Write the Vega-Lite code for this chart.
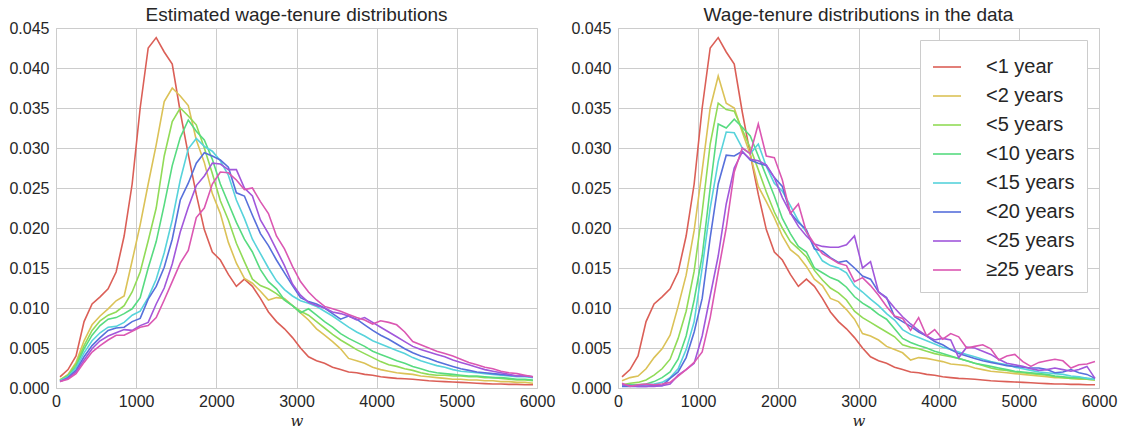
{
  "$schema": "https://vega.github.io/schema/vega-lite/v6.json",
  "background": "white",
  "padding": {"left": 8, "top": 5, "right": 5, "bottom": 0},
  "config": {
    "view": {"stroke": "#cccccc", "strokeWidth": 1},
    "axis": {"grid": true, "gridColor": "#cccccc", "gridWidth": 1, "domain": false, "ticks": false, "labelFont": "Liberation Sans", "labelFontSize": 16, "labelColor": "#262626", "titleColor": "#262626", "labelFlush": false, "labelOverlap": false},
    "title": {"font": "Liberation Sans", "fontSize": 19, "fontWeight": "normal", "color": "#262626", "offset": -5},
    "concat": {"spacing": 14}
  },
  "datasets": {
    "est": [
      {"w":50,"y1":0.0014,"y2":0.0010,"y5":0.0010,"y10":0.0009,"y15":0.0009,"y20":0.0008,"y25":0.0008,"y25p":0.0008},
      {"w":150,"y1":0.0023,"y2":0.0017,"y5":0.0016,"y10":0.0015,"y15":0.0014,"y20":0.0013,"y25":0.0012,"y25p":0.0011},
      {"w":250,"y1":0.0040,"y2":0.0032,"y5":0.0030,"y10":0.0027,"y15":0.0025,"y20":0.0022,"y25":0.0020,"y25p":0.0018},
      {"w":350,"y1":0.0083,"y2":0.0059,"y5":0.0053,"y10":0.0049,"y15":0.0044,"y20":0.0039,"y25":0.0035,"y25p":0.0032},
      {"w":450,"y1":0.0105,"y2":0.0079,"y5":0.0072,"y10":0.0066,"y15":0.0059,"y20":0.0053,"y25":0.0049,"y25p":0.0045},
      {"w":550,"y1":0.0114,"y2":0.0090,"y5":0.0084,"y10":0.0078,"y15":0.0069,"y20":0.0063,"y25":0.0059,"y25p":0.0053},
      {"w":650,"y1":0.0124,"y2":0.0099,"y5":0.0091,"y10":0.0086,"y15":0.0076,"y20":0.0072,"y25":0.0065,"y25p":0.0060},
      {"w":750,"y1":0.0145,"y2":0.0109,"y5":0.0095,"y10":0.0088,"y15":0.0077,"y20":0.0075,"y25":0.0069,"y25p":0.0066},
      {"w":850,"y1":0.0190,"y2":0.0115,"y5":0.0103,"y10":0.0093,"y15":0.0082,"y20":0.0076,"y25":0.0073,"y25p":0.0066},
      {"w":950,"y1":0.0255,"y2":0.0159,"y5":0.0120,"y10":0.0099,"y15":0.0091,"y20":0.0083,"y25":0.0072,"y25p":0.0071},
      {"w":1050,"y1":0.0350,"y2":0.0204,"y5":0.0145,"y10":0.0113,"y15":0.0096,"y20":0.0087,"y25":0.0078,"y25p":0.0076},
      {"w":1150,"y1":0.0425,"y2":0.0255,"y5":0.0184,"y10":0.0150,"y15":0.0113,"y20":0.0111,"y25":0.0082,"y25p":0.0078},
      {"w":1250,"y1":0.0438,"y2":0.0304,"y5":0.0225,"y10":0.0183,"y15":0.0136,"y20":0.0127,"y25":0.0105,"y25p":0.0088},
      {"w":1350,"y1":0.0420,"y2":0.0358,"y5":0.0290,"y10":0.0229,"y15":0.0169,"y20":0.0151,"y25":0.0125,"y25p":0.0110},
      {"w":1450,"y1":0.0405,"y2":0.0375,"y5":0.0333,"y10":0.0278,"y15":0.0210,"y20":0.0186,"y25":0.0155,"y25p":0.0133},
      {"w":1550,"y1":0.0345,"y2":0.0365,"y5":0.0350,"y10":0.0313,"y15":0.0260,"y20":0.0235,"y25":0.0195,"y25p":0.0156},
      {"w":1650,"y1":0.0292,"y2":0.0353,"y5":0.0340,"y10":0.0335,"y15":0.0299,"y20":0.0256,"y25":0.0226,"y25p":0.0172},
      {"w":1750,"y1":0.0242,"y2":0.0310,"y5":0.0329,"y10":0.0321,"y15":0.0312,"y20":0.0281,"y25":0.0253,"y25p":0.0213},
      {"w":1850,"y1":0.0198,"y2":0.0282,"y5":0.0300,"y10":0.0310,"y15":0.0302,"y20":0.0294,"y25":0.0265,"y25p":0.0225},
      {"w":1950,"y1":0.0170,"y2":0.0243,"y5":0.0268,"y10":0.0286,"y15":0.0296,"y20":0.0290,"y25":0.0281,"y25p":0.0255},
      {"w":2050,"y1":0.0160,"y2":0.0218,"y5":0.0234,"y10":0.0255,"y15":0.0284,"y20":0.0285,"y25":0.0280,"y25p":0.0270},
      {"w":2150,"y1":0.0142,"y2":0.0182,"y5":0.0210,"y10":0.0231,"y15":0.0266,"y20":0.0276,"y25":0.0273,"y25p":0.0269},
      {"w":2250,"y1":0.0127,"y2":0.0156,"y5":0.0181,"y10":0.0207,"y15":0.0235,"y20":0.0244,"y25":0.0273,"y25p":0.0260},
      {"w":2350,"y1":0.0136,"y2":0.0137,"y5":0.0158,"y10":0.0186,"y15":0.0212,"y20":0.0240,"y25":0.0250,"y25p":0.0248},
      {"w":2450,"y1":0.0127,"y2":0.0131,"y5":0.0136,"y10":0.0170,"y15":0.0186,"y20":0.0216,"y25":0.0240,"y25p":0.0250},
      {"w":2550,"y1":0.0112,"y2":0.0121,"y5":0.0128,"y10":0.0148,"y15":0.0168,"y20":0.0193,"y25":0.0210,"y25p":0.0233},
      {"w":2650,"y1":0.0095,"y2":0.0110,"y5":0.0124,"y10":0.0133,"y15":0.0150,"y20":0.0178,"y25":0.0193,"y25p":0.0218},
      {"w":2750,"y1":0.0083,"y2":0.0113,"y5":0.0118,"y10":0.0124,"y15":0.0134,"y20":0.0160,"y25":0.0173,"y25p":0.0190},
      {"w":2850,"y1":0.0074,"y2":0.0112,"y5":0.0110,"y10":0.0110,"y15":0.0123,"y20":0.0144,"y25":0.0153,"y25p":0.0174},
      {"w":2950,"y1":0.0063,"y2":0.0103,"y5":0.0103,"y10":0.0103,"y15":0.0115,"y20":0.0128,"y25":0.0130,"y25p":0.0152},
      {"w":3050,"y1":0.0050,"y2":0.0094,"y5":0.0096,"y10":0.0094,"y15":0.0109,"y20":0.0113,"y25":0.0116,"y25p":0.0133},
      {"w":3150,"y1":0.0039,"y2":0.0085,"y5":0.0091,"y10":0.0099,"y15":0.0106,"y20":0.0108,"y25":0.0107,"y25p":0.0120},
      {"w":3250,"y1":0.0034,"y2":0.0074,"y5":0.0083,"y10":0.0091,"y15":0.0102,"y20":0.0105,"y25":0.0103,"y25p":0.0110},
      {"w":3350,"y1":0.0031,"y2":0.0066,"y5":0.0075,"y10":0.0083,"y15":0.0096,"y20":0.0100,"y25":0.0100,"y25p":0.0102},
      {"w":3450,"y1":0.0026,"y2":0.0058,"y5":0.0067,"y10":0.0076,"y15":0.0090,"y20":0.0093,"y25":0.0095,"y25p":0.0099},
      {"w":3550,"y1":0.0023,"y2":0.0049,"y5":0.0060,"y10":0.0068,"y15":0.0083,"y20":0.0086,"y25":0.0093,"y25p":0.0096},
      {"w":3650,"y1":0.0020,"y2":0.0037,"y5":0.0054,"y10":0.0062,"y15":0.0076,"y20":0.0090,"y25":0.0090,"y25p":0.0092},
      {"w":3750,"y1":0.0019,"y2":0.0034,"y5":0.0048,"y10":0.0057,"y15":0.0070,"y20":0.0086,"y25":0.0085,"y25p":0.0088},
      {"w":3850,"y1":0.0017,"y2":0.0031,"y5":0.0043,"y10":0.0052,"y15":0.0065,"y20":0.0079,"y25":0.0088,"y25p":0.0085},
      {"w":3950,"y1":0.0016,"y2":0.0026,"y5":0.0038,"y10":0.0046,"y15":0.0059,"y20":0.0072,"y25":0.0082,"y25p":0.0080},
      {"w":4050,"y1":0.0014,"y2":0.0023,"y5":0.0033,"y10":0.0042,"y15":0.0055,"y20":0.0066,"y25":0.0076,"y25p":0.0084},
      {"w":4150,"y1":0.0013,"y2":0.0021,"y5":0.0029,"y10":0.0038,"y15":0.0051,"y20":0.0061,"y25":0.0070,"y25p":0.0082},
      {"w":4250,"y1":0.0012,"y2":0.0019,"y5":0.0027,"y10":0.0034,"y15":0.0047,"y20":0.0055,"y25":0.0064,"y25p":0.0079},
      {"w":4350,"y1":0.00115,"y2":0.0018,"y5":0.0024,"y10":0.0031,"y15":0.0043,"y20":0.0049,"y25":0.0058,"y25p":0.0070},
      {"w":4450,"y1":0.0011,"y2":0.0017,"y5":0.0022,"y10":0.0027,"y15":0.0038,"y20":0.0044,"y25":0.0052,"y25p":0.0058},
      {"w":4550,"y1":0.0010,"y2":0.0015,"y5":0.0019,"y10":0.0024,"y15":0.0034,"y20":0.0040,"y25":0.0048,"y25p":0.0054},
      {"w":4650,"y1":0.0009,"y2":0.0014,"y5":0.0017,"y10":0.0021,"y15":0.0031,"y20":0.0037,"y25":0.0045,"y25p":0.0050},
      {"w":4750,"y1":0.00085,"y2":0.0013,"y5":0.0016,"y10":0.0019,"y15":0.0028,"y20":0.0033,"y25":0.0042,"y25p":0.0046},
      {"w":4850,"y1":0.0008,"y2":0.0012,"y5":0.0016,"y10":0.0018,"y15":0.0026,"y20":0.0030,"y25":0.0039,"y25p":0.0043},
      {"w":4950,"y1":0.00075,"y2":0.0011,"y5":0.0015,"y10":0.0017,"y15":0.0023,"y20":0.0027,"y25":0.0035,"y25p":0.0040},
      {"w":5050,"y1":0.0007,"y2":0.0011,"y5":0.0015,"y10":0.0016,"y15":0.0021,"y20":0.0024,"y25":0.0032,"y25p":0.0036},
      {"w":5150,"y1":0.00065,"y2":0.0010,"y5":0.0014,"y10":0.0015,"y15":0.0020,"y20":0.0022,"y25":0.0029,"y25p":0.0032},
      {"w":5250,"y1":0.0006,"y2":0.0010,"y5":0.0014,"y10":0.0015,"y15":0.0019,"y20":0.0020,"y25":0.0026,"y25p":0.0029},
      {"w":5350,"y1":0.00055,"y2":0.0009,"y5":0.0013,"y10":0.0014,"y15":0.0018,"y20":0.0019,"y25":0.0023,"y25p":0.0026},
      {"w":5450,"y1":0.0005,"y2":0.0009,"y5":0.0013,"y10":0.0013,"y15":0.0017,"y20":0.0018,"y25":0.0021,"y25p":0.0024},
      {"w":5550,"y1":0.0005,"y2":0.0008,"y5":0.0012,"y10":0.0013,"y15":0.0016,"y20":0.0017,"y25":0.0019,"y25p":0.0021},
      {"w":5650,"y1":0.00045,"y2":0.0008,"y5":0.0011,"y10":0.0012,"y15":0.0015,"y20":0.0016,"y25":0.0017,"y25p":0.0019},
      {"w":5750,"y1":0.00045,"y2":0.0007,"y5":0.0010,"y10":0.0011,"y15":0.0014,"y20":0.0015,"y25":0.0015,"y25p":0.0018},
      {"w":5850,"y1":0.0004,"y2":0.0007,"y5":0.0010,"y10":0.0011,"y15":0.0014,"y20":0.0015,"y25":0.0015,"y25p":0.0016},
      {"w":5950,"y1":0.0004,"y2":0.0006,"y5":0.0009,"y10":0.0010,"y15":0.0013,"y20":0.0014,"y25":0.0014,"y25p":0.0014}
    ],
    "dat": [
      {"w":50,"y1":0.0014,"y2":0.0009,"y5":0.0004,"y10":0.0003,"y15":0.0003,"y20":0.0002,"y25":0.0004,"y25p":0.0006},
      {"w":150,"y1":0.0023,"y2":0.0013,"y5":0.0006,"y10":0.0004,"y15":0.0003,"y20":0.0002,"y25":0.0003,"y25p":0.0002},
      {"w":250,"y1":0.0040,"y2":0.0015,"y5":0.0007,"y10":0.0004,"y15":0.0003,"y20":0.0002,"y25":0.0002,"y25p":0.0004},
      {"w":350,"y1":0.0083,"y2":0.0024,"y5":0.0010,"y10":0.0005,"y15":0.0004,"y20":0.0002,"y25":0.0002,"y25p":0.0005},
      {"w":450,"y1":0.0105,"y2":0.0038,"y5":0.0016,"y10":0.0008,"y15":0.0005,"y20":0.0003,"y25":0.0002,"y25p":0.0004},
      {"w":550,"y1":0.0114,"y2":0.0049,"y5":0.0024,"y10":0.0013,"y15":0.0007,"y20":0.0003,"y25":0.0003,"y25p":0.0005},
      {"w":650,"y1":0.0124,"y2":0.0066,"y5":0.0036,"y10":0.0020,"y15":0.0013,"y20":0.0012,"y25":0.0005,"y25p":0.0007},
      {"w":750,"y1":0.0145,"y2":0.0102,"y5":0.0062,"y10":0.0036,"y15":0.0024,"y20":0.0020,"y25":0.0016,"y25p":0.0015},
      {"w":850,"y1":0.0190,"y2":0.0141,"y5":0.0096,"y10":0.0065,"y15":0.0048,"y20":0.0038,"y25":0.0023,"y25p":0.0023},
      {"w":950,"y1":0.0255,"y2":0.0197,"y5":0.0146,"y10":0.0110,"y15":0.0083,"y20":0.0070,"y25":0.0031,"y25p":0.0032},
      {"w":1050,"y1":0.0350,"y2":0.0272,"y5":0.0220,"y10":0.0165,"y15":0.0150,"y20":0.0112,"y25":0.0065,"y25p":0.0045},
      {"w":1150,"y1":0.0425,"y2":0.0350,"y5":0.0305,"y10":0.0250,"y15":0.0225,"y20":0.0188,"y25":0.0115,"y25p":0.0088},
      {"w":1250,"y1":0.0438,"y2":0.0390,"y5":0.0356,"y10":0.0330,"y15":0.0283,"y20":0.0255,"y25":0.0165,"y25p":0.0145},
      {"w":1350,"y1":0.0420,"y2":0.0356,"y5":0.0348,"y10":0.0325,"y15":0.0320,"y20":0.0291,"y25":0.0230,"y25p":0.0200},
      {"w":1450,"y1":0.0405,"y2":0.0350,"y5":0.0346,"y10":0.0336,"y15":0.0319,"y20":0.0290,"y25":0.0275,"y25p":0.0270},
      {"w":1550,"y1":0.0345,"y2":0.0320,"y5":0.0323,"y10":0.0326,"y15":0.0300,"y20":0.0296,"y25":0.0295,"y25p":0.0300},
      {"w":1650,"y1":0.0292,"y2":0.0292,"y5":0.0300,"y10":0.0315,"y15":0.0293,"y20":0.0285,"y25":0.0286,"y25p":0.0293},
      {"w":1750,"y1":0.0242,"y2":0.0252,"y5":0.0273,"y10":0.0290,"y15":0.0305,"y20":0.0281,"y25":0.0284,"y25p":0.0330},
      {"w":1850,"y1":0.0198,"y2":0.0233,"y5":0.0245,"y10":0.0265,"y15":0.0277,"y20":0.0278,"y25":0.0279,"y25p":0.0290},
      {"w":1950,"y1":0.0170,"y2":0.0213,"y5":0.0220,"y10":0.0240,"y15":0.0256,"y20":0.0263,"y25":0.0263,"y25p":0.0288},
      {"w":2050,"y1":0.0160,"y2":0.0190,"y5":0.0200,"y10":0.0212,"y15":0.0246,"y20":0.0252,"y25":0.0238,"y25p":0.0260},
      {"w":2150,"y1":0.0142,"y2":0.0173,"y5":0.0183,"y10":0.0193,"y15":0.0228,"y20":0.0219,"y25":0.0219,"y25p":0.0218},
      {"w":2250,"y1":0.0127,"y2":0.0165,"y5":0.0174,"y10":0.0177,"y15":0.0209,"y20":0.0207,"y25":0.0202,"y25p":0.0230},
      {"w":2350,"y1":0.0136,"y2":0.0152,"y5":0.0164,"y10":0.0170,"y15":0.0195,"y20":0.0198,"y25":0.0190,"y25p":0.0195},
      {"w":2450,"y1":0.0127,"y2":0.0136,"y5":0.0147,"y10":0.0150,"y15":0.0175,"y20":0.0174,"y25":0.0180,"y25p":0.0180},
      {"w":2550,"y1":0.0112,"y2":0.0128,"y5":0.0135,"y10":0.0144,"y15":0.0159,"y20":0.0171,"y25":0.0177,"y25p":0.0168},
      {"w":2650,"y1":0.0095,"y2":0.0112,"y5":0.0125,"y10":0.0138,"y15":0.0153,"y20":0.0163,"y25":0.0176,"y25p":0.0162},
      {"w":2750,"y1":0.0083,"y2":0.0108,"y5":0.0119,"y10":0.0134,"y15":0.0150,"y20":0.0157,"y25":0.0176,"y25p":0.0156},
      {"w":2850,"y1":0.0074,"y2":0.0098,"y5":0.0110,"y10":0.0126,"y15":0.0144,"y20":0.0159,"y25":0.0179,"y25p":0.0153},
      {"w":2950,"y1":0.0063,"y2":0.0086,"y5":0.0096,"y10":0.0114,"y15":0.0128,"y20":0.0150,"y25":0.0190,"y25p":0.0133},
      {"w":3050,"y1":0.0050,"y2":0.0068,"y5":0.0088,"y10":0.0106,"y15":0.0120,"y20":0.0140,"y25":0.0150,"y25p":0.0138},
      {"w":3150,"y1":0.0039,"y2":0.0065,"y5":0.0082,"y10":0.0100,"y15":0.0111,"y20":0.0136,"y25":0.0158,"y25p":0.0128},
      {"w":3250,"y1":0.0034,"y2":0.0060,"y5":0.0076,"y10":0.0092,"y15":0.0103,"y20":0.0120,"y25":0.0120,"y25p":0.0116},
      {"w":3350,"y1":0.0031,"y2":0.0052,"y5":0.0070,"y10":0.0086,"y15":0.0093,"y20":0.0113,"y25":0.0112,"y25p":0.0102},
      {"w":3450,"y1":0.0026,"y2":0.0048,"y5":0.0064,"y10":0.0074,"y15":0.0085,"y20":0.0089,"y25":0.0100,"y25p":0.0090},
      {"w":3550,"y1":0.0023,"y2":0.0044,"y5":0.0054,"y10":0.0062,"y15":0.0073,"y20":0.0083,"y25":0.0089,"y25p":0.0087},
      {"w":3650,"y1":0.0020,"y2":0.0035,"y5":0.0051,"y10":0.0057,"y15":0.0067,"y20":0.0077,"y25":0.0080,"y25p":0.0072},
      {"w":3750,"y1":0.0019,"y2":0.0038,"y5":0.0049,"y10":0.0053,"y15":0.0063,"y20":0.0070,"y25":0.0072,"y25p":0.0088},
      {"w":3850,"y1":0.0017,"y2":0.0037,"y5":0.0046,"y10":0.0050,"y15":0.0059,"y20":0.0065,"y25":0.0065,"y25p":0.0065},
      {"w":3950,"y1":0.0016,"y2":0.0035,"y5":0.0043,"y10":0.0046,"y15":0.0055,"y20":0.0058,"y25":0.0060,"y25p":0.0073},
      {"w":4050,"y1":0.0014,"y2":0.0033,"y5":0.0041,"y10":0.0043,"y15":0.0051,"y20":0.0054,"y25":0.0062,"y25p":0.0061},
      {"w":4150,"y1":0.0013,"y2":0.0030,"y5":0.0039,"y10":0.0040,"y15":0.0048,"y20":0.0048,"y25":0.0060,"y25p":0.0068},
      {"w":4250,"y1":0.0012,"y2":0.0029,"y5":0.0037,"y10":0.0037,"y15":0.0045,"y20":0.0043,"y25":0.0038,"y25p":0.0064},
      {"w":4350,"y1":0.00115,"y2":0.0028,"y5":0.0034,"y10":0.0034,"y15":0.0042,"y20":0.0040,"y25":0.0051,"y25p":0.0050},
      {"w":4450,"y1":0.0011,"y2":0.0025,"y5":0.0031,"y10":0.0031,"y15":0.0039,"y20":0.0037,"y25":0.0050,"y25p":0.0052},
      {"w":4550,"y1":0.0010,"y2":0.0023,"y5":0.0028,"y10":0.0029,"y15":0.0036,"y20":0.0034,"y25":0.0046,"y25p":0.0054},
      {"w":4650,"y1":0.0009,"y2":0.0021,"y5":0.0025,"y10":0.0027,"y15":0.0033,"y20":0.0032,"y25":0.0042,"y25p":0.0049},
      {"w":4750,"y1":0.00085,"y2":0.0020,"y5":0.0023,"y10":0.0025,"y15":0.0031,"y20":0.0030,"y25":0.0036,"y25p":0.0035},
      {"w":4850,"y1":0.0008,"y2":0.0019,"y5":0.0022,"y10":0.0023,"y15":0.0029,"y20":0.0028,"y25":0.0031,"y25p":0.0040},
      {"w":4950,"y1":0.00075,"y2":0.0018,"y5":0.0020,"y10":0.0021,"y15":0.0026,"y20":0.0027,"y25":0.0029,"y25p":0.0042},
      {"w":5050,"y1":0.0007,"y2":0.0017,"y5":0.0019,"y10":0.0020,"y15":0.0024,"y20":0.0026,"y25":0.0027,"y25p":0.0033},
      {"w":5150,"y1":0.00065,"y2":0.0016,"y5":0.0018,"y10":0.0019,"y15":0.0022,"y20":0.0025,"y25":0.0024,"y25p":0.0027},
      {"w":5250,"y1":0.0006,"y2":0.0015,"y5":0.0017,"y10":0.0018,"y15":0.0020,"y20":0.0025,"y25":0.0022,"y25p":0.0032},
      {"w":5350,"y1":0.00055,"y2":0.0014,"y5":0.0016,"y10":0.0017,"y15":0.0019,"y20":0.0023,"y25":0.0023,"y25p":0.0034},
      {"w":5450,"y1":0.0005,"y2":0.0013,"y5":0.0014,"y10":0.0015,"y15":0.0018,"y20":0.0019,"y25":0.0025,"y25p":0.0036},
      {"w":5550,"y1":0.0005,"y2":0.0013,"y5":0.0013,"y10":0.0014,"y15":0.0017,"y20":0.0020,"y25":0.0023,"y25p":0.0034},
      {"w":5650,"y1":0.00045,"y2":0.0012,"y5":0.0012,"y10":0.0013,"y15":0.0015,"y20":0.0023,"y25":0.0021,"y25p":0.0025},
      {"w":5750,"y1":0.00045,"y2":0.0011,"y5":0.0012,"y10":0.0013,"y15":0.0014,"y20":0.0019,"y25":0.0023,"y25p":0.0029},
      {"w":5850,"y1":0.0004,"y2":0.0011,"y5":0.0011,"y10":0.0012,"y15":0.0012,"y20":0.0017,"y25":0.0027,"y25p":0.0030},
      {"w":5950,"y1":0.0004,"y2":0.0010,"y5":0.0010,"y10":0.0011,"y15":0.0011,"y20":0.0012,"y25":0.0012,"y25p":0.0033}
    ]
  },
  "hconcat": [
    {
      "title": "Estimated wage-tenure distributions",
      "width": 481,
      "height": 360,
      "data": {"name": "est"},
      "transform": [{"fold": ["y1","y2","y5","y10","y15","y20","y25","y25p"], "as": ["g","v"]}],
      "mark": {"type": "line", "strokeWidth": 1.6, "clip": true},
      "encoding": {
        "x": {"field": "w", "type": "quantitative", "scale": {"domain": [0, 6000], "nice": false}, "axis": {"values": [0,1000,2000,3000,4000,5000,6000], "format": "d", "title": "w", "titleFont": "DejaVu Serif", "titleFontStyle": "italic", "titleFontWeight": "normal", "titleFontSize": 15, "labelPadding": 5, "titlePadding": 4}},
        "y": {"field": "v", "type": "quantitative", "scale": {"domain": [0, 0.045], "nice": false}, "axis": {"values": [0,0.005,0.01,0.015,0.02,0.025,0.03,0.035,0.04,0.045], "format": ".3f", "title": null, "labelPadding": 7}},
        "color": {"field": "g", "type": "nominal", "scale": {"domain": ["y1","y2","y5","y10","y15","y20","y25","y25p"], "range": ["#db5f57","#dbc257","#91db57","#57db80","#57d3db","#5770db","#a157db","#db57b2"]}, "legend": null}
      }
    },
    {
      "title": "Wage-tenure distributions in the data",
      "width": 481,
      "height": 360,
      "data": {"name": "dat"},
      "transform": [{"fold": ["y1","y2","y5","y10","y15","y20","y25","y25p"], "as": ["g","v"]}],
      "mark": {"type": "line", "strokeWidth": 1.6, "clip": true},
      "encoding": {
        "x": {"field": "w", "type": "quantitative", "scale": {"domain": [0, 6000], "nice": false}, "axis": {"values": [0,1000,2000,3000,4000,5000,6000], "format": "d", "title": "w", "titleFont": "DejaVu Serif", "titleFontStyle": "italic", "titleFontWeight": "normal", "titleFontSize": 15, "labelPadding": 5, "titlePadding": 4}},
        "y": {"field": "v", "type": "quantitative", "scale": {"domain": [0, 0.045], "nice": false}, "axis": {"values": [0,0.005,0.01,0.015,0.02,0.025,0.03,0.035,0.04,0.045], "format": ".3f", "title": null, "labelPadding": 7}},
        "color": {"field": "g", "type": "nominal", "scale": {"domain": ["y1","y2","y5","y10","y15","y20","y25","y25p"], "range": ["#db5f57","#dbc257","#91db57","#57db80","#57d3db","#5770db","#a157db","#db57b2"]}, "legend": {"title": null, "orient": "top-right", "offset": 12, "symbolType": "stroke", "symbolSize": 784, "symbolStrokeWidth": 1.6, "labelFont": "Liberation Sans", "labelFontSize": 20, "labelColor": "#262626", "labelOffset": 24, "rowPadding": 4, "padding": 12, "strokeColor": "#cccccc", "fillColor": "white", "cornerRadius": 0, "labelLimit": 300, "labelExpr": "datum.value == 'y25p' ? '≥25 years' : datum.value == 'y1' ? '<1 year' : '<' + slice(datum.value, 1) + ' years'"}}
      }
    }
  ],
  "resolve": {"scale": {"color": "independent"}, "legend": {"color": "independent"}}
}
